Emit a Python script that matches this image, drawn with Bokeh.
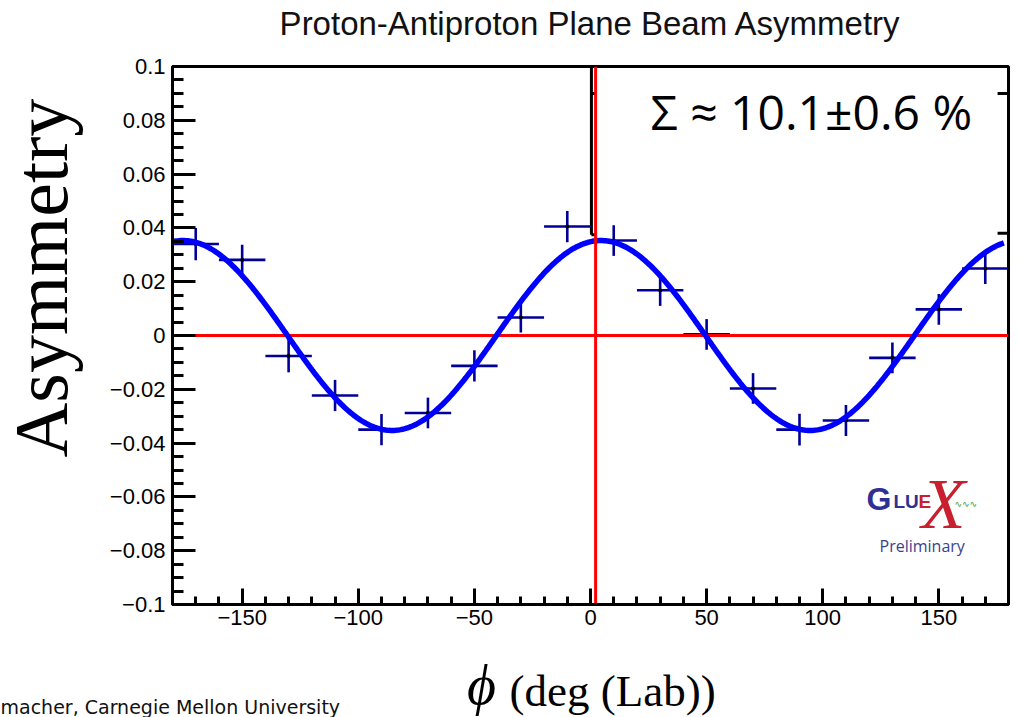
import numpy as np
from bokeh.plotting import figure
from bokeh.layouts import column, row
from bokeh.models import Range1d, FixedTicker, CustomJSTickFormatter, Label
from bokeh.embed import file_html
from bokeh.resources import INLINE

# ---------------- data ----------------
phi_centers = [-170, -150, -130, -110, -90, -70, -50, -30, -10,
               10, 30, 50, 70, 90, 110, 130, 150, 170]
asymmetry = [0.0340, 0.0281, -0.0076, -0.0223, -0.0350, -0.0288, -0.0113, 0.0067, 0.0405,
             0.0353, 0.0168, 0.0004, -0.0197, -0.0350, -0.0316, -0.0083, 0.0097, 0.0249]
asymmetry_err = [0.0060, 0.0056, 0.0061, 0.0058, 0.0058, 0.0057, 0.0058, 0.0056, 0.0058,
                 0.0057, 0.0058, 0.0057, 0.0057, 0.0059, 0.0058, 0.0057, 0.0057, 0.0058]
bin_half_width = 10

# fitted function  A * cos(2 (phi - phi0))
fit_amplitude = 0.0353
fit_phase_deg = 4.5
fit_phi_min, fit_phi_max = -180, 178

marker_line_phi = 2.2      # red vertical line
zero_line_y = 0.0          # red horizontal line

x_major_ticks = [-150, -100, -50, 0, 50, 100, 150]
x_minor_ticks = list(range(-180, 181, 10))
y_major_ticks = [-0.1, -0.08, -0.06, -0.04, -0.02, 0.0, 0.02, 0.04, 0.06, 0.08, 0.1]
y_minor_ticks = [round(-0.1 + 0.005 * i, 4) for i in range(41)]

title_text = "Proton-Antiproton Plane Beam Asymmetry"
y_label_text = "Asymmetry"
x_label_symbol = "\u03d5"
x_label_text = "(deg (Lab))"
sigma_text = "\u03a3 \u2248 10.1\u00b10.6 %"
footer_text = "macher, Carnegie Mellon University"

# ---------------- page geometry ----------------
W, H = 1019, 717
TOP_H = 50           # title strip
BOT_H = 67           # x-label strip
LEFT_W = 90          # y-label strip
FL, FR, FT, FB = 172, 1008, 66, 604   # plot frame in page pixels
X0, X1 = -180, 180
Y0, Y1 = -0.1, 0.1


def px_x(px):
    return X0 + (px - FL) / (FR - FL) * (X1 - X0)


def px_y(py):
    return Y1 - (py - FT) / (FB - FT) * (Y1 - Y0)


def strip(width, height, x_start, x_end, y_top, y_bottom):
    f = figure(width=width, height=height,
               x_range=Range1d(x_start, x_end), y_range=Range1d(y_bottom, y_top),
               x_axis_type=None, y_axis_type=None,
               output_backend="svg", toolbar_location=None, min_border=0)
    f.title.visible = False
    f.outline_line_color = None
    f.background_fill_color = "white"
    f.border_fill_color = "white"
    return f


# ---------------- main plot ----------------
MAIN_W = W - LEFT_W
MAIN_H = H - TOP_H - BOT_H
p = figure(width=MAIN_W, height=MAIN_H, x_range=Range1d(X0, X1), y_range=Range1d(Y0, Y1),
           output_backend="svg", toolbar_location=None,
           min_border_left=FL - LEFT_W, min_border_right=W - FR,
           min_border_top=FT - TOP_H, min_border_bottom=(H - BOT_H) - FB)
p.title.visible = False
p.background_fill_color = "white"
p.border_fill_color = "white"
p.grid.visible = False
p.outline_line_color = "black"
p.outline_line_width = 3
p.outline_line_alpha = 1.0

fmt = CustomJSTickFormatter(code="""
var v = Math.round(tick * 1000) / 1000;
var s = v.toString();
return s.replace('-', '\u2212');
""")

xa = p.xaxis[0]
xa.ticker = FixedTicker(ticks=x_major_ticks, minor_ticks=x_minor_ticks)
xa.formatter = fmt
xa.major_tick_in = 16
xa.major_tick_out = 0
xa.minor_tick_in = 8
xa.minor_tick_out = 0
xa.major_tick_line_width = 3
xa.minor_tick_line_width = 3
xa.axis_line_width = 3
xa.major_label_text_font = "Liberation Sans"
xa.major_label_text_font_size = "22px"
xa.major_label_text_color = "black"
xa.major_label_standoff = 5

ya = p.yaxis[0]
ya.ticker = FixedTicker(ticks=y_major_ticks, minor_ticks=y_minor_ticks)
ya.formatter = fmt
ya.major_tick_in = 23
ya.major_tick_out = 0
ya.minor_tick_in = 11
ya.minor_tick_out = 0
ya.major_tick_line_width = 3
ya.minor_tick_line_width = 3
ya.axis_line_width = 3
ya.major_label_text_font = "Liberation Sans"
ya.major_label_text_font_size = "22px"
ya.major_label_text_color = "black"
ya.major_label_standoff = 7

# stats-box remnants (upper right)
box_left_phi = 0.4
box_bottom_y = 0.0375
p.segment(x0=[box_left_phi, box_left_phi, box_left_phi, 175.3, 175.3],
          x1=[box_left_phi, marker_line_phi, 2.6, X1, X1],
          y0=[Y1, box_bottom_y, 0.09, 0.09, 0.038],
          y1=[box_bottom_y, box_bottom_y, 0.09, 0.09, 0.038],
          line_color="black", line_width=3)

# data crosses
phi = np.array(phi_centers, dtype=float)
a = np.array(asymmetry)
e = np.array(asymmetry_err)
cross_color = "#000099"
p.segment(x0=phi - bin_half_width, x1=phi + bin_half_width, y0=a, y1=a,
          line_color=cross_color, line_width=2.6)
p.segment(x0=phi, x1=phi, y0=a - e, y1=a + e, line_color=cross_color, line_width=2.6)
p.scatter(phi, a, marker="square", size=2.5, color="black")

# red horizontal zero line
p.segment(x0=[X0], x1=[X1], y0=[zero_line_y], y1=[zero_line_y], line_color="#ff0000", line_width=3)

# fit curve
phi_fit = np.linspace(fit_phi_min, fit_phi_max, 500)
y_fit = fit_amplitude * np.cos(2 * np.radians(phi_fit - fit_phase_deg))
p.line(phi_fit, y_fit, line_color="#0000ff", line_width=5.5)

# red vertical line
p.segment(x0=[marker_line_phi], x1=[marker_line_phi], y0=[Y0], y1=[Y1], line_color="#ff0000", line_width=3)

# sigma text
p.add_layout(Label(x=px_x(650), y=px_y(111), text=sigma_text,
                   text_align="left", text_baseline="middle",
                   text_font="Open Sans", text_font_size="48px", text_color="black"))

# GlueX logo
navy = "#2e3192"
logo_red = "#c8202f"
p.add_layout(Label(x=px_x(866), y=px_y(498), text="G", text_align="left", text_baseline="middle",
                   text_font="Liberation Sans", text_font_style="bold", text_font_size="32px",
                   text_color=navy))
p.add_layout(Label(x=px_x(893), y=px_y(501), text="LU", text_align="left", text_baseline="middle",
                   text_font="Liberation Sans", text_font_style="bold", text_font_size="19px",
                   text_color=navy))
p.add_layout(Label(x=px_x(918), y=px_y(501), text="E", text_align="left", text_baseline="middle",
                   text_font="Liberation Sans", text_font_style="bold", text_font_size="19px",
                   text_color=logo_red))
p.add_layout(Label(x=px_x(943), y=px_y(503), text="X", text_align="center", text_baseline="middle",
                   text_font="Liberation Serif", text_font_style="italic", text_font_size="72px",
                   text_color=logo_red))
p.add_layout(Label(x=px_x(954), y=px_y(503), text="\u223f\u223f\u223f", text_align="left",
                   text_baseline="middle", text_font="DejaVu Sans", text_font_size="9px",
                   text_color="#3a9a3a"))
p.add_layout(Label(x=px_x(879), y=px_y(545), text="Preliminary", text_align="left",
                   text_baseline="middle", text_font="Open Sans", text_font_size="16px",
                   text_color="#3b3f8f"))

# ---------------- title strip ----------------
top = strip(W, TOP_H, 0, W, 0, TOP_H)
top.add_layout(Label(x=(FL + FR) / 2, y=23, text=title_text, text_align="center",
                     text_baseline="middle", text_font="Liberation Sans",
                     text_font_size="33px", text_color="#111111"))

# ---------------- y-label strip ----------------
left = strip(LEFT_W, MAIN_H, 0, LEFT_W, TOP_H, H - BOT_H)
left.add_layout(Label(x=40, y=286, text=y_label_text, angle=np.pi / 2,
                      text_align="center", text_baseline="middle",
                      text_font="Liberation Serif", text_font_size="76px", text_color="black"))

# ---------------- x-label strip ----------------
bottom = strip(W, BOT_H, 0, W, H - BOT_H, H)
bottom.add_layout(Label(x=481, y=684, text=x_label_symbol, text_align="center",
                        text_baseline="middle", text_font="Liberation Serif",
                        text_font_style="italic", text_font_size="56px", text_color="black"))
bottom.add_layout(Label(x=509, y=690, text=x_label_text, text_align="left",
                        text_baseline="middle", text_font="Liberation Serif",
                        text_font_size="45px", text_color="black"))
bottom.add_layout(Label(x=0, y=706, text=footer_text, text_align="left",
                        text_baseline="middle", text_font="DejaVu Sans",
                        text_font_size="19px", text_color="#111111"))

layout = column(top, row(left, p), bottom)
open("out.html", "w").write(file_html(layout, INLINE))
